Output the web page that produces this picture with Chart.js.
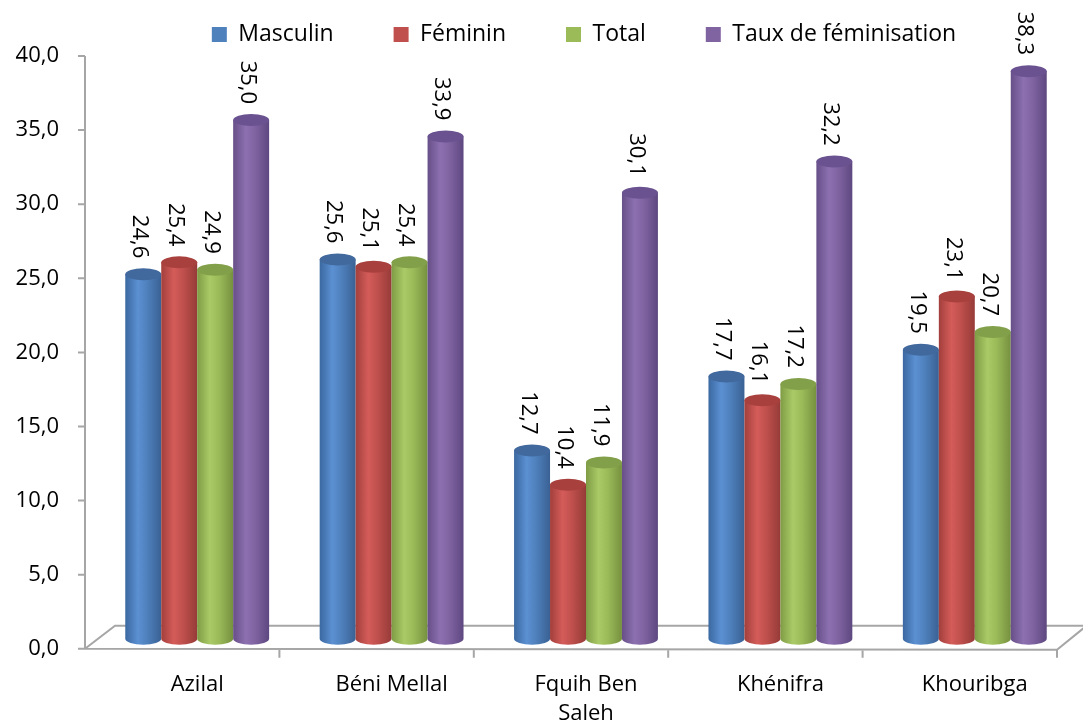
<!DOCTYPE html>
<html>
<head>
<meta charset="utf-8">
<script src="https://cdn.jsdelivr.net/npm/chart.js@4"></script>
<style>
  html, body { margin: 0; padding: 0; background: #fff; }
  #wrap { width: 1083px; height: 724px; }
</style>
</head>
<body>
<div id="wrap"><canvas id="chart" width="1083" height="724"></canvas></div>
<script>
// Provinces
const categories = ['Azilal', 'Béni Mellal', ['Fquih Ben', 'Saleh'], 'Khénifra', 'Khouribga'];

// Series values
const masculin = [24.6, 25.6, 12.7, 17.7, 19.5];
const feminin = [25.4, 25.1, 10.4, 16.1, 23.1];
const total = [24.9, 25.4, 11.9, 17.2, 20.7];
const tauxFeminisation = [35.0, 33.9, 30.1, 32.2, 38.3];

const seriesNames = ['Masculin', 'Féminin', 'Total', 'Taux de féminisation'];
const colors = ['#4F81BD', '#C0504D', '#9BBB59', '#8064A2'];
// shading for the cylinders: [dark edge, light, right edge, cap]
const shades = [
  ['#3b68a0', '#5b90d2', '#3a6194', '#41699d'],
  ['#a23f3c', '#d45c59', '#963b38', '#a8403d'],
  ['#7f9c45', '#a9ca66', '#76913f', '#82a04a'],
  ['#674f88', '#8c70b0', '#5e4880', '#6a5290']
];

const FONT = "'Open Sans', sans-serif";
const fmt = v => v.toFixed(1).replace('.', ',');

// 3D look: floor, axis and cylinders drawn from the bar elements
const cylinders = {
  id: 'cylinders',
  afterLayout(chart) {
    // legend sits a bit right of centre in the original
    chart.legend.left += 48;
    chart.legend.right += 48;
  },
  beforeDatasetsDraw(chart) {
    const { ctx, chartArea: a, scales } = chart;
    const y = scales.y;
    const catW = (a.right - a.left) / categories.length;
    ctx.save();
    ctx.strokeStyle = '#a6a6a6';
    ctx.lineWidth = 2;
    const fx = a.left - 15, bot = a.bottom;
    // y axis line + ticks
    ctx.beginPath();
    ctx.moveTo(fx, a.top);
    ctx.lineTo(fx, bot);
    y.ticks.forEach(t => {
      const ty = y.getPixelForValue(t.value);
      ctx.moveTo(fx - 7, ty);
      ctx.lineTo(fx, ty);
    });
    // floor
    ctx.moveTo(fx, bot);
    ctx.lineTo(a.right - 15, bot + 1);
    ctx.lineTo(a.right + 12, bot - 21);
    ctx.moveTo(fx, bot);
    ctx.lineTo(fx + 30, bot - 23);
    ctx.lineTo(chart.width, bot - 23);
    for (let i = 1; i <= categories.length; i++) {
      const tx = fx + i * catW;
      ctx.moveTo(tx, bot + 1);
      ctx.lineTo(tx, bot + 9);
    }
    ctx.stroke();
    ctx.restore();

    chart.data.datasets.forEach((ds, di) => {
      const meta = chart.getDatasetMeta(di);
      if (meta.hidden) return;
      const sh = shades[di];
      meta.data.forEach(el => {
        const w = el.width;
        const x0 = el.x - w / 2, x1 = el.x + w / 2;
        const top = el.y - 10, base = el.base - 10;
        const ry = 6;
        const g = ctx.createLinearGradient(x0, 0, x1, 0);
        g.addColorStop(0, sh[0]);
        g.addColorStop(0.35, sh[1]);
        g.addColorStop(0.6, colors[di]);
        g.addColorStop(1, sh[2]);
        ctx.save();
        ctx.fillStyle = g;
        ctx.beginPath();
        ctx.moveTo(x0, top);
        ctx.lineTo(x0, base);
        ctx.ellipse(el.x, base, w / 2, ry, 0, Math.PI, 0, true);
        ctx.lineTo(x1, top);
        ctx.closePath();
        ctx.fill();
        ctx.fillStyle = sh[3];
        ctx.beginPath();
        ctx.ellipse(el.x, top, w / 2, ry, 0, 0, Math.PI * 2);
        ctx.fill();
        ctx.restore();
      });
    });
    return false;
  },
  afterDraw(chart) {
    // rotated value labels above each cylinder
    const { ctx } = chart;
    ctx.save();
    ctx.fillStyle = '#000';
    ctx.font = '22px ' + FONT;
    ctx.textAlign = 'right';
    ctx.textBaseline = 'middle';
    chart.data.datasets.forEach((ds, di) => {
      const meta = chart.getDatasetMeta(di);
      meta.data.forEach((el, i) => {
        ctx.save();
        ctx.translate(el.x - 4, el.y - 26);
        ctx.rotate(Math.PI / 2);
        ctx.fillText(fmt(ds.data[i]), 0, 0);
        ctx.restore();
      });
    });
    ctx.restore();
  }
};

const allSeries = [masculin, feminin, total, tauxFeminisation];

new Chart(document.getElementById('chart'), {
  type: 'bar',
  data: {
    labels: categories,
    datasets: allSeries.map((d, i) => ({
      label: seriesNames[i],
      data: d,
      backgroundColor: colors[i],
      borderWidth: 0,
      barPercentage: 1,
      categoryPercentage: 0.74
    }))
  },
  options: {
    responsive: false,
    animation: false,
    layout: { padding: { top: -37, right: 11, left: 0, bottom: -18 } },
    plugins: {
      legend: {
        display: true,
        position: 'top',
        labels: {
          color: '#000',
          font: { family: FONT, size: 23 },
          boxWidth: 15,
          boxHeight: 15,
          padding: 60
        }
      },
      tooltip: { enabled: false }
    },
    scales: {
      x: {
        grid: { display: false },
        border: { display: false },
        ticks: { color: '#000', font: { family: FONT, size: 22, lineHeight: 1.3 }, padding: 14, maxRotation: 0 }
      },
      y: {
        min: 0,
        max: 40,
        grid: { display: false },
        border: { display: false },
        afterFit(scale) { scale.width = 100; },
        ticks: {
          stepSize: 5,
          color: '#000',
          font: { family: FONT, size: 22 },
          padding: 33,
          callback: v => fmt(v)
        }
      }
    }
  },
  plugins: [cylinders]
});
</script>
</body>
</html>
